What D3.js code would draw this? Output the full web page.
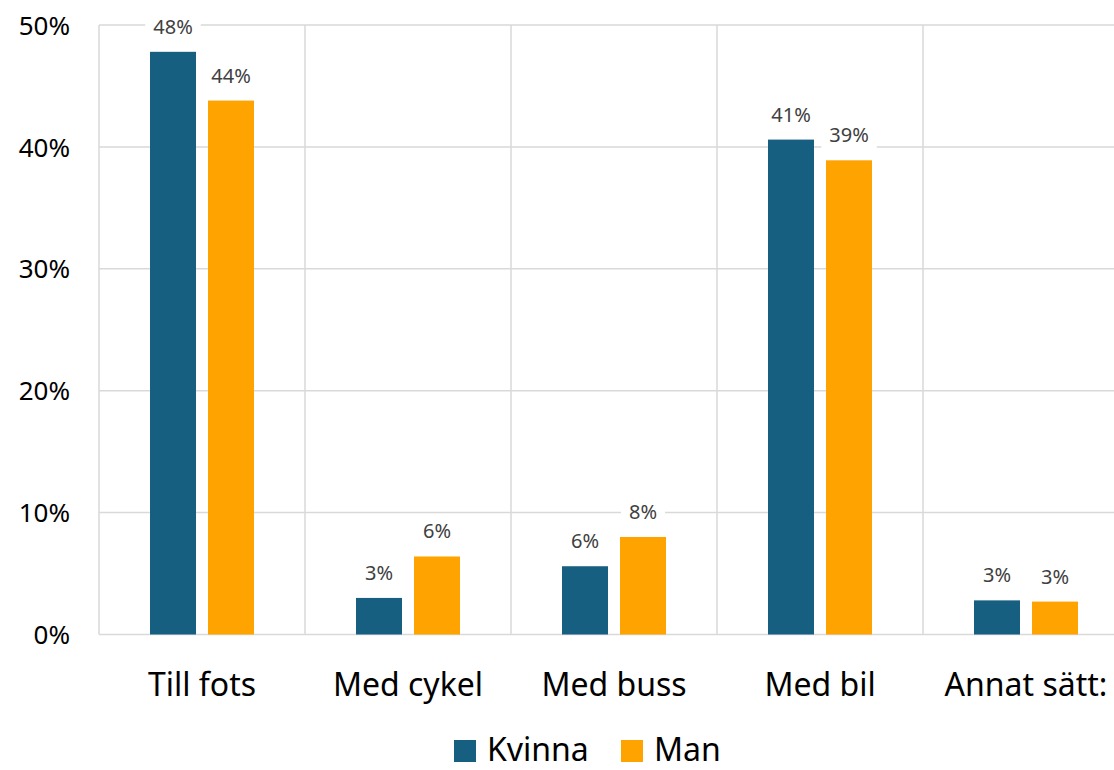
<!DOCTYPE html>
<html><head><meta charset="utf-8">
<script src="https://cdn.jsdelivr.net/npm/d3@7"></script>
<style>body{margin:0;background:#fff;} svg{display:block;font-family:"Noto Sans",sans-serif;}</style>
</head><body><svg id="c" width="1114" height="770"></svg>
<script>
const categories = ["Till fots","Med cykel","Med buss","Med bil","Annat sätt:"];
const series = ["Kvinna","Man"];
const kvinna = [47.8, 3.0, 5.6, 40.6, 2.8];
const man = [43.8, 6.4, 8.0, 38.9, 2.7];
const labelsK = ["48%","3%","6%","41%","3%"];
const labelsM = ["44%","6%","8%","39%","3%"];
const yTicks = [0,10,20,30,40,50];
const colors = ["#175F80","#FFA300"];

(function(){
const svg = d3.select("#c");
const pL = 99, pR = 1129, pT = 25, pB = 634.5;
const x = d3.scaleBand().domain(categories).range([pL, pR]);
const y = d3.scaleLinear().domain([0,50]).range([pB, pT]);
const grid = "#d9d9d9";

svg.append("g").selectAll("line").data(yTicks).join("line")
  .attr("x1", pL).attr("x2", pR).attr("y1", d=>y(d)).attr("y2", d=>y(d))
  .attr("stroke", grid).attr("stroke-width", 1.5);
svg.append("g").selectAll("line").data(d3.range(categories.length+1)).join("line")
  .attr("x1", i=>pL + i*x.bandwidth()).attr("x2", i=>pL + i*x.bandwidth())
  .attr("y1", pT).attr("y2", pB)
  .attr("stroke", grid).attr("stroke-width", 1.5);

const yAxis = d3.axisLeft(y).tickValues(yTicks).tickFormat(d=>d+"%").tickSize(0).tickPadding(29);
const ya = svg.append("g").attr("transform",`translate(${pL},0)`).call(yAxis);
ya.select(".domain").remove();
ya.selectAll("text").attr("font-size",26).attr("fill","#000").attr("font-family","Noto Sans").attr("dy","0.35em");

const xAxis = d3.axisBottom(x).tickSize(0).tickPadding(0);
const xa = svg.append("g").attr("transform",`translate(0,${pB})`).call(xAxis);
xa.select(".domain").remove();
xa.selectAll("text").attr("font-size",32).attr("fill","#000").attr("font-family","Noto Sans").attr("dy",null).attr("y",61);

const bw = 46, gap = 12;
const data = [];
categories.forEach((c,i)=>{
  data.push({c, s:0, v:kvinna[i], l:labelsK[i]});
  data.push({c, s:1, v:man[i], l:labelsM[i]});
});
const bx = d => x(d.c) + x.bandwidth()/2 + (d.s===0 ? -gap/2 - bw : gap/2);

svg.append("g").selectAll("rect").data(data).join("rect")
  .attr("x", bx).attr("width", bw)
  .attr("y", d=>y(d.v)).attr("height", d=>y(0)-y(d.v))
  .attr("fill", d=>colors[d.s]);

const lg = svg.append("g");
data.forEach(d=>{
  const cx = bx(d) + bw/2;
  const g = lg.append("g");
  const t = g.append("text").attr("x", cx).attr("y", y(d.v)-18)
    .attr("text-anchor","middle").attr("font-size",20).attr("fill","#404040").text(d.l);
  const bb = t.node().getBBox();
  g.insert("rect","text").attr("x", bb.x-8).attr("y", bb.y-2).attr("width", bb.width+16).attr("height", bb.height+4).attr("fill","#fff");
});

const legend = svg.append("g");
const legX = [454, 621];
series.forEach((s,i)=>{
  legend.append("rect").attr("x", legX[i]).attr("y",740).attr("width",22).attr("height",22).attr("fill",colors[i]);
  legend.append("text").attr("x", legX[i]+33).attr("y",761).attr("font-size",32).attr("fill","#000").text(s);
});
})();
</script></body></html>
